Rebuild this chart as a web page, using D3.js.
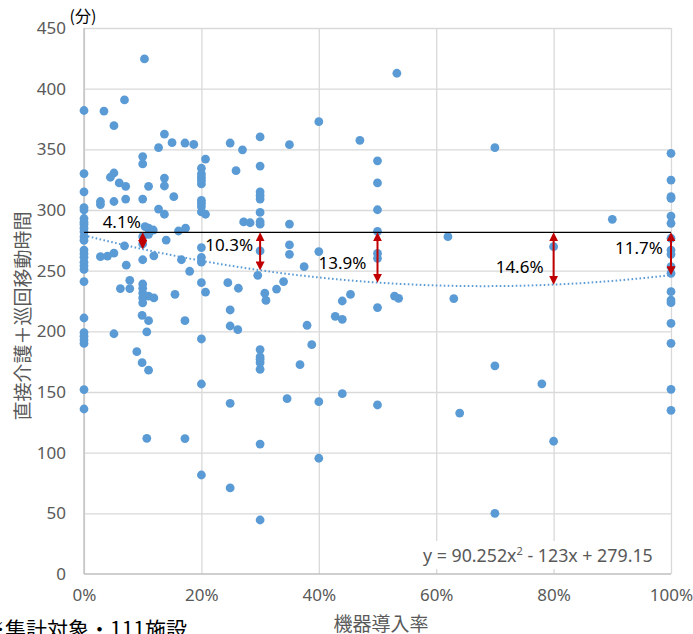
<!DOCTYPE html>
<meta charset="utf-8">
<script src="https://d3js.org/d3.v7.min.js"></script>
<style>
  body { margin: 0; background: #fff; }
  text { font-family: "Noto Sans", "Noto Sans CJK JP", sans-serif; }
  .jp { font-family: "Noto Sans CJK JP", sans-serif; }
</style>
<div id="viz"></div>
<script>

// machine introduction rate (0-1) and minutes, one entry per facility
var rate = [
  0, 0, 0, 0, 0, 0, 0, 0, 0, 0, 0, 0, 0, 0, 0, 0, 0, 0, 0, 0, 0, 0, 0, 0, 0, 0,
  0.028, 0.028, 0.034, 0.028, 0.04, 0.051, 0.051, 0.051, 0.045, 0.051, 0.051, 0.06, 0.069, 0.071, 0.071, 0.069, 0.072, 0.062, 0.078, 0.078, 0.09, 0.099, 0.099,
  0.10, 0.10, 0.10, 0.10, 0.10, 0.10, 0.10, 0.10, 0.10, 0.10, 0.10,
  0.103, 0.104, 0.11, 0.118, 0.11, 0.11, 0.11, 0.119, 0.119, 0.11, 0.107, 0.11, 0.107,
  0.127, 0.127, 0.137, 0.137, 0.137, 0.137, 0.14, 0.15, 0.153, 0.155, 0.161, 0.166, 0.172, 0.173, 0.172, 0.172, 0.18, 0.187,
  0.2, 0.2, 0.2, 0.2, 0.2, 0.2, 0.2, 0.2, 0.2, 0.2, 0.2, 0.2, 0.2, 0.2, 0.2, 0.2, 0.207, 0.207, 0.207,
  0.249, 0.27, 0.259, 0.272, 0.283, 0.245, 0.263, 0.249, 0.249, 0.262, 0.249, 0.249,
  0.3, 0.3, 0.3, 0.3, 0.3, 0.3, 0.3, 0.3, 0.3, 0.296, 0.3, 0.3, 0.3, 0.3, 0.3, 0.3, 0.3, 0.308, 0.31,
  0.328, 0.34, 0.35, 0.35, 0.35, 0.35, 0.346, 0.368, 0.375, 0.38, 0.388, 0.4, 0.4, 0.4, 0.4,
  0.428, 0.44, 0.44, 0.454, 0.44, 0.47,
  0.5, 0.5, 0.5, 0.5, 0.5, 0.5, 0.5, 0.5,
  0.533, 0.529, 0.536, 0.62, 0.63, 0.64,
  0.70, 0.70, 0.70, 0.78, 0.80, 0.80, 0.90,
  1, 1, 1, 1, 1, 1, 1, 1, 1, 1, 1, 1, 1, 1, 1, 1, 1, 1
];
var minutes = [
  382, 330, 315, 302, 300, 293, 290, 288, 285, 282, 278, 275, 267, 264, 261, 257, 254, 251, 241, 211, 199, 196, 193, 190, 152, 136,
  307, 304.5, 381.5, 261.5, 262, 264.5, 369.5, 330.5, 327, 307, 198, 322.3, 390.7, 319.5, 309, 270.5, 254.5, 235.2, 242, 235.2, 183.2, 174.2, 213.2,
  344, 338, 309, 278, 272, 259, 239, 235.5, 231.5, 227.5, 223.5,
  424.5, 286.3, 285, 283.5, 280, 319.5, 229, 227.5, 262.2, 208.8, 199.5, 168, 111.8,
  351.4, 300.8, 362.6, 326.3, 319.8, 296.5, 275.2, 355.5, 311, 230.5, 282.7, 259, 355.2, 285, 208.8, 111.6, 249.5, 354,
  334.4, 329.7, 327, 324.5, 321.5, 308, 305.5, 302.7, 298.4, 269, 261, 257, 240.1, 193.7, 156.6, 81.6, 342, 296.5, 232.3,
  355.2, 349.6, 332.4, 290.2, 289.5, 240.1, 235.5, 217.6, 204.4, 201.4, 140.7, 70.9,
  360.2, 336.2, 315, 312, 309, 298, 290.4, 288.3, 266.3, 246.2, 185, 179, 177, 174.2, 168.7, 107.1, 44.5, 231.4, 225.5,
  234.8, 241, 353.8, 288.4, 271.2, 263.5, 144.5, 172.5, 253.3, 205, 189, 372.8, 265.7, 142, 95.4,
  212.4, 209.9, 225, 230.4, 148.6, 357.4,
  340.5, 322.3, 300.2, 282.3, 264.3, 260.2, 219.6, 139.3,
  412.7, 229.1, 227.2, 278, 227, 132.6,
  351.4, 171.6, 50, 156.7, 269.8, 109.4, 292.3,
  346.7, 324.7, 311, 309.6, 295, 289, 276.7, 267, 263.5, 253.3, 247.8, 232.7, 225.8, 223.6, 206.6, 190.1, 152.2, 134.9
];

var xTicks = [0, 0.2, 0.4, 0.6, 0.8, 1];
var yTicks = [0, 50, 100, 150, 200, 250, 300, 350, 400, 450];

// quadratic trend y = a x^2 + b x + c
var trendA = 90.252, trendB = -123, trendC = 279.15;
var baseLevel = 281.5;

var arrowRates = [0.1, 0.3, 0.5, 0.8, 1];
var arrowLabels = ["4.1%", "10.3%", "13.9%", "14.6%", "11.7%"];

var width = 693, height = 634;
var plot = {left: 84, right: 671, top: 28, bottom: 574};

var svg = d3.select("#viz").append("svg")
  .attr("width", width)
  .attr("height", height);

var x = d3.scaleLinear().domain([0, 1]).range([plot.left, plot.right]);
var y = d3.scaleLinear().domain([0, 450]).range([plot.bottom, plot.top]);
var trend = function (t) { return trendA * t * t + trendB * t + trendC; };

// grid
svg.append("g")
  .attr("transform", "translate(0," + plot.bottom + ")")
  .call(d3.axisBottom(x).tickValues(xTicks).tickSize(-(plot.bottom - plot.top)).tickFormat(""))
  .call(g => g.select(".domain").remove())
  .call(g => g.selectAll(".tick line").attr("stroke", "#d9d9d9").attr("stroke-width", 1.3));
svg.append("g")
  .attr("transform", "translate(" + plot.left + ",0)")
  .call(d3.axisLeft(y).tickValues(yTicks.slice(1)).tickSize(-(plot.right - plot.left)).tickFormat(""))
  .call(g => g.select(".domain").remove())
  .call(g => g.selectAll(".tick line").attr("stroke", "#d9d9d9").attr("stroke-width", 1.3));

// axis lines
svg.append("line").attr("x1", plot.left).attr("x2", plot.right).attr("y1", y(0)).attr("y2", y(0))
  .attr("stroke", "#bfbfbf").attr("stroke-width", 1.3);
svg.append("line").attr("x1", plot.left).attr("x2", plot.left).attr("y1", plot.top).attr("y2", plot.bottom)
  .attr("stroke", "#bfbfbf").attr("stroke-width", 1.3);

// tick labels
svg.append("g")
  .attr("transform", "translate(0," + plot.bottom + ")")
  .call(d3.axisBottom(x).tickValues(xTicks).tickSize(0).tickPadding(15).tickFormat(d3.format(".0%")))
  .call(g => g.select(".domain").remove())
  .call(g => g.selectAll("text").attr("fill", "#595959").style("font-size", "17px")
    .style("font-family", "'Noto Sans', sans-serif"));
svg.append("g")
  .attr("transform", "translate(" + plot.left + ",0)")
  .call(d3.axisLeft(y).tickValues(yTicks).tickSize(0).tickPadding(18))
  .call(g => g.select(".domain").remove())
  .call(g => g.selectAll("text").attr("fill", "#595959").style("font-size", "17px")
    .style("font-family", "'Noto Sans', sans-serif"));

// equation box
svg.append("rect").attr("x", 417).attr("y", 541).attr("width", 242).attr("height", 28).attr("fill", "#fff");
var eq = svg.append("text").attr("x", 423).attr("y", 562)
  .attr("fill", "#595959").style("font-size", "17.8px");
eq.append("tspan").text("y = 90.252x");
eq.append("tspan").attr("dy", -7).style("font-size", "11px").text("2");
eq.append("tspan").attr("dy", 7).text(" - 123x + 279.15");

// points
svg.append("g")
  .selectAll("circle")
  .data(rate.map((r, i) => [r, minutes[i]]))
  .join("circle")
    .attr("cx", d => x(d[0]))
    .attr("cy", d => y(d[1]))
    .attr("r", 4.4)
    .attr("fill", "#5b9bd5");

// trend line
svg.append("path")
  .datum(d3.range(0, 1.0001, 0.01))
  .attr("fill", "none")
  .attr("stroke", "#5b9bd5")
  .attr("stroke-width", 2)
  .attr("stroke-dasharray", "1.6 2.4")
  .attr("d", d3.line().x(t => x(t)).y(t => y(trend(t))));

// reference line
svg.append("line")
  .attr("x1", x(0)).attr("x2", x(1))
  .attr("y1", y(baseLevel)).attr("y2", y(baseLevel))
  .attr("stroke", "#000").attr("stroke-width", 1.3);

// arrows, tips on the reference line and on the trend
var defs = svg.append("defs");
defs.append("marker").attr("id", "head")
  .attr("viewBox", "0 0 10 10").attr("refX", 7).attr("refY", 5)
  .attr("markerWidth", 9).attr("markerHeight", 9)
  .attr("markerUnits", "userSpaceOnUse").attr("orient", "auto-start-reverse")
  .append("path").attr("d", "M0,0 L10,5 L0,10 Z").attr("fill", "#c00000");

svg.append("g")
  .selectAll("line")
  .data(arrowRates)
  .join("line")
    .attr("x1", d => x(d)).attr("x2", d => x(d))
    .attr("y1", d => y(baseLevel) + 2.5)
    .attr("y2", d => y(trend(d)) - 2.5)
    .attr("stroke", "#c00000")
    .attr("stroke-width", 2)
    .attr("marker-start", "url(#head)")
    .attr("marker-end", "url(#head)");

// percentage labels, offsets from each arrow
var labelOffset = [[-21, -11], [-31, 12], [-35, 30], [-34, 34], [-32, 15]];
svg.append("g")
  .selectAll("text")
  .data(arrowLabels)
  .join("text")
    .attr("x", (d, i) => x(arrowRates[i]) + labelOffset[i][0])
    .attr("y", (d, i) => y(baseLevel) + labelOffset[i][1])
    .attr("text-anchor", "middle")
    .attr("dominant-baseline", "central")
    .attr("fill", "#000")
    .style("font-size", "17px")
    .text(d => d);

// titles
svg.append("text").attr("class", "jp")
  .attr("x", 83).attr("y", 22).attr("text-anchor", "middle")
  .attr("fill", "#000").style("font-size", "16px").text("(分)");

svg.append("text").attr("class", "jp")
  .attr("transform", "translate(21,316) rotate(-90)")
  .attr("text-anchor", "middle").attr("dominant-baseline", "central")
  .attr("fill", "#595959").style("font-size", "19px")
  .text("直接介護＋巡回移動時間");

svg.append("text").attr("class", "jp")
  .attr("x", 381).attr("y", 622).attr("text-anchor", "middle").attr("dominant-baseline", "central")
  .attr("fill", "#595959").style("font-size", "19px")
  .text("機器導入率");

svg.append("text").attr("class", "jp")
  .attr("x", -16).attr("y", 637)
  .attr("fill", "#000").style("font-size", "21px")
  .text("※集計対象・111施設");

</script>
